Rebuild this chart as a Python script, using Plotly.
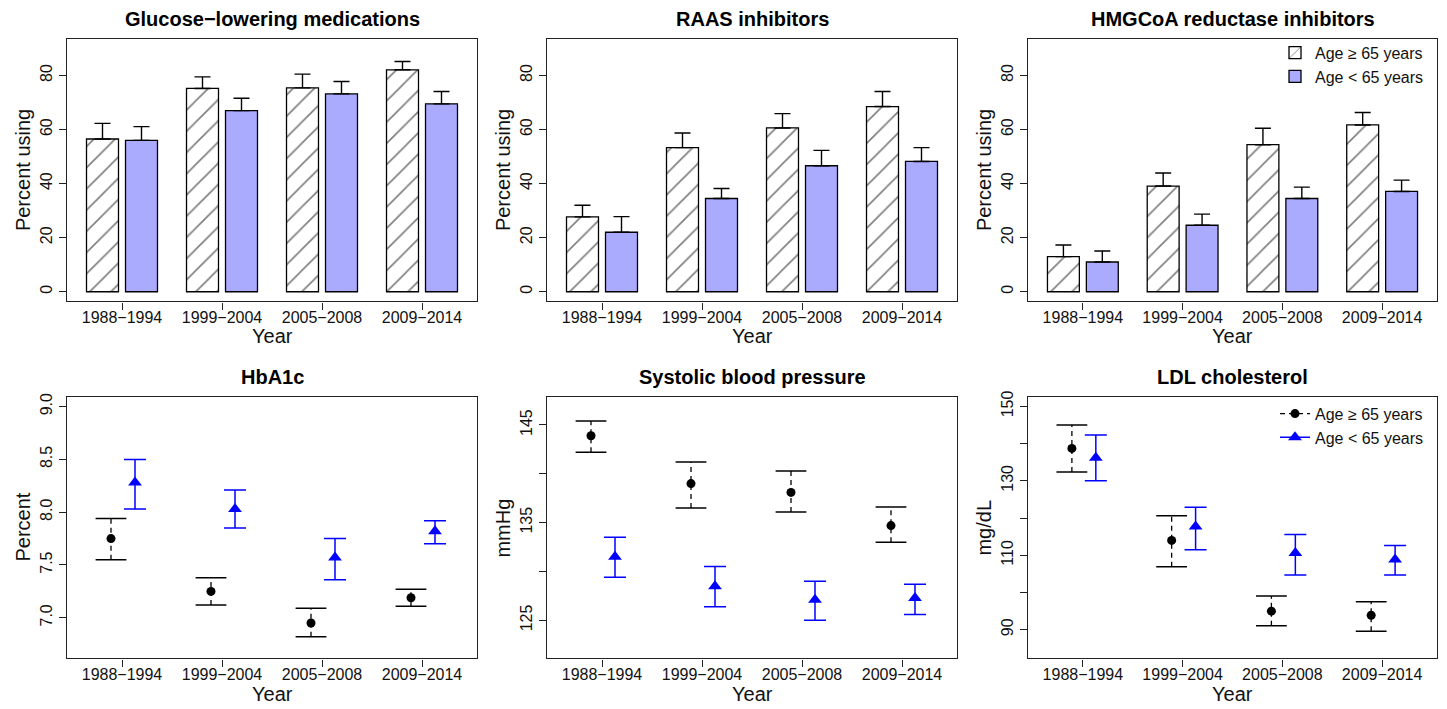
import plotly.graph_objects as go

W, H = 1447, 709
FONT = "Liberation Sans, Arial, Helvetica, sans-serif"

periods = ["1988−1994", "1999−2004", "2005−2008", "2009−2014"]
xpos = [0, 1, 2, 3]

# ---- Bar panels: percent using (estimate, upper CI) ----
glu_old = [56.5, 75.2, 75.4, 82.1]
glu_old_hi = [62.3, 79.5, 80.5, 85.2]
glu_young = [56.0, 67.0, 73.2, 69.5]
glu_young_hi = [61.1, 71.6, 77.8, 74.1]

raas_old = [27.7, 53.3, 60.6, 68.5]
raas_old_hi = [32.0, 58.7, 65.9, 74.1]
raas_young = [22.0, 34.5, 46.6, 48.2]
raas_young_hi = [27.8, 38.2, 52.3, 53.3]

hmg_old = [13.0, 39.1, 54.4, 61.7]
hmg_old_hi = [17.3, 43.9, 60.5, 66.3]
hmg_young = [11.0, 24.6, 34.5, 37.1]
hmg_young_hi = [15.1, 28.7, 38.7, 41.3]

# ---- Point panels: mean, lower CI, upper CI ----
hba_old = [7.75, 7.25, 6.95, 7.19]
hba_old_lo = [7.55, 7.12, 6.82, 7.11]
hba_old_hi = [7.94, 7.38, 7.09, 7.27]
hba_young = [8.28, 8.03, 7.57, 7.82]
hba_young_lo = [8.03, 7.85, 7.36, 7.70]
hba_young_hi = [8.50, 8.21, 7.75, 7.92]

sbp_old = [143.9, 139.0, 138.1, 134.7]
sbp_old_lo = [142.2, 136.5, 136.1, 133.0]
sbp_old_hi = [145.4, 141.2, 140.3, 136.6]
sbp_young = [131.5, 128.5, 127.1, 127.3]
sbp_young_lo = [129.4, 126.4, 125.0, 125.6]
sbp_young_hi = [133.5, 130.5, 129.0, 128.7]

ldl_old = [138.7, 114.0, 95.0, 93.9]
ldl_old_lo = [132.4, 106.9, 91.1, 89.6]
ldl_old_hi = [145.0, 120.6, 99.1, 97.5]
ldl_young = [136.2, 117.7, 110.6, 108.9]
ldl_young_lo = [130.0, 111.5, 104.7, 104.7]
ldl_young_hi = [142.3, 122.9, 115.6, 112.6]

LABEL_OLD = "Age ≥ 65 years"
LABEL_YOUNG = "Age < 65 years"
BAR_BLUE = "#AAAAFF"
PT_BLUE = "#0000FF"

cols = [(67, 477), (547, 957), (1028, 1437)]
rows = [(33, 298), (394, 658)]

fig = go.Figure()


def ax_name(i):
    return "" if i == 1 else str(i)


def add_bars(idx, old, old_hi, young, young_hi, legend):
    a = ax_name(idx)
    fig.add_trace(go.Bar(
        x=xpos, y=old, name=LABEL_OLD, offsetgroup="old",
        xaxis="x" + a, yaxis="y" + a, showlegend=legend, legend="legend",
        marker=dict(color="white", line=dict(color="black", width=1.3),
                    pattern=dict(shape="/", fgcolor="black", bgcolor="white",
                                 size=15, solidity=0.11)),
        error_y=dict(type="data", symmetric=False,
                     array=[h - v for h, v in zip(old_hi, old)],
                     arrayminus=[0] * len(old), color="black",
                     thickness=1.4, width=8),
    ))
    fig.add_trace(go.Bar(
        x=xpos, y=young, name=LABEL_YOUNG, offsetgroup="young",
        xaxis="x" + a, yaxis="y" + a, showlegend=legend, legend="legend",
        marker=dict(color=BAR_BLUE, line=dict(color="black", width=1.3)),
        error_y=dict(type="data", symmetric=False,
                     array=[h - v for h, v in zip(young_hi, young)],
                     arrayminus=[0] * len(young), color="black",
                     thickness=1.4, width=8),
    ))


def add_points(idx, old, old_lo, old_hi, young, young_lo, young_hi):
    a = ax_name(idx)
    xo = [x - 0.11 for x in xpos]
    xy = [x + 0.13 for x in xpos]
    # dashed CI lines for older group
    lx, ly = [], []
    for x, lo, hi in zip(xo, old_lo, old_hi):
        lx += [x, x, None]
        ly += [lo, hi, None]
    fig.add_trace(go.Scatter(
        x=lx, y=ly, mode="lines", xaxis="x" + a, yaxis="y" + a,
        line=dict(color="black", width=1.3, dash="5px,4px"),
        showlegend=False, hoverinfo="skip"))
    fig.add_trace(go.Scatter(
        x=xo + xo, y=old_lo + old_hi, mode="markers",
        xaxis="x" + a, yaxis="y" + a, showlegend=False, hoverinfo="skip",
        marker=dict(symbol="line-ew", size=22, color="black",
                    line=dict(color="black", width=1.5))))
    fig.add_trace(go.Scatter(
        x=xo, y=old, mode="markers", xaxis="x" + a, yaxis="y" + a,
        name=LABEL_OLD, showlegend=False,
        marker=dict(symbol="circle", size=9, color="black")))
    fig.add_trace(go.Scatter(
        x=xy, y=young, mode="markers", xaxis="x" + a, yaxis="y" + a,
        name=LABEL_YOUNG, showlegend=False,
        marker=dict(symbol="triangle-up", size=12, color=PT_BLUE),
        error_y=dict(type="data", symmetric=False,
                     array=[h - v for h, v in zip(young_hi, young)],
                     arrayminus=[v - l for v, l in zip(young, young_lo)],
                     color=PT_BLUE, thickness=1.5, width=11)))


add_bars(1, glu_old, glu_old_hi, glu_young, glu_young_hi, False)
add_bars(2, raas_old, raas_old_hi, raas_young, raas_young_hi, False)
add_bars(3, hmg_old, hmg_old_hi, hmg_young, hmg_young_hi, True)
add_points(4, hba_old, hba_old_lo, hba_old_hi, hba_young, hba_young_lo, hba_young_hi)
add_points(5, sbp_old, sbp_old_lo, sbp_old_hi, sbp_young, sbp_young_lo, sbp_young_hi)
add_points(6, ldl_old, ldl_old_lo, ldl_old_hi, ldl_young, ldl_young_lo, ldl_young_hi)

# legend entries for point panels
fig.add_trace(go.Scatter(
    x=[None], y=[None], mode="lines+markers", name=LABEL_OLD, legend="legend2",
    xaxis="x6", yaxis="y6",
    line=dict(color="black", width=1.3, dash="5px,4px"),
    marker=dict(symbol="circle", size=9, color="black")))
fig.add_trace(go.Scatter(
    x=[None], y=[None], mode="lines+markers", name=LABEL_YOUNG, legend="legend2",
    xaxis="x6", yaxis="y6",
    line=dict(color=PT_BLUE, width=1.5),
    marker=dict(symbol="triangle-up", size=12, color=PT_BLUE)))

titles = ["Glucose−lowering medications", "RAAS inhibitors",
          "HMGCoA reductase inhibitors", "HbA1c", "Systolic blood pressure",
          "LDL cholesterol"]
ytitles = ["Percent using", "Percent using", "Percent using", "Percent",
           "mmHg", "mg/dL"]
yranges = [[-3.6, 93.6], [-3.6, 93.6], [-3.6, 93.6],
           [6.615, 9.094], [121.1, 147.9], [82.3, 152.6]]
ytickvals = [[0, 20, 40, 60, 80]] * 3 + [
    [7.0, 7.5, 8.0, 8.5, 9.0],
    [125, 130, 135, 140, 145],
    [90, 100, 110, 120, 130, 140, 150]]
yticktext = [["0", "20", "40", "60", "80"]] * 3 + [
    ["7.0", "7.5", "8.0", "8.5", "9.0"],
    ["125", "", "135", "", "145"],
    ["90", "", "110", "", "130", "", "150"]]

axis_common = dict(showline=True, mirror=True, linecolor="#222", linewidth=1.3,
                   ticks="outside", ticklen=7, tickwidth=1.3, tickcolor="#222",
                   showgrid=False, zeroline=False,
                   tickfont=dict(family=FONT, size=16, color="#111"))

layout = dict(width=W, height=H, autosize=False,
              margin=dict(l=0, r=0, t=0, b=0),
              paper_bgcolor="white", plot_bgcolor="white",
              font=dict(family=FONT, color="#111"),
              barmode="group", bargap=0.22, bargroupgap=0.18,
              annotations=[])

for i in range(6):
    r, c = divmod(i, 3)
    x0, x1 = cols[c]
    y0, y1 = rows[r]
    a = ax_name(i + 1)
    layout["xaxis" + a] = dict(
        axis_common, domain=[x0 / W, x1 / W], range=[-0.55, 3.55],
        tickvals=xpos, ticktext=periods, anchor="y" + a,
        ticklabelstandoff=-6)
    layout["yaxis" + a] = dict(
        axis_common, domain=[1 - y1 / H, 1 - y0 / H], range=yranges[i],
        tickvals=ytickvals[i], ticktext=yticktext[i], tickangle=-90,
        anchor="x" + a)
    cx = (x0 + x1) / 2
    layout["annotations"].append(dict(
        text="<b>" + titles[i] + "</b>", x=cx / W, y=1 - (13 + 361 * r) / H,
        xref="paper", yref="paper", showarrow=False, xanchor="center",
        yanchor="middle", font=dict(family=FONT, size=20, color="#000")))
    layout["annotations"].append(dict(
        text="Year", x=cx / W, y=1 - (333 + 361 * r) / H,
        xref="paper", yref="paper", showarrow=False, xanchor="center",
        yanchor="middle", font=dict(family=FONT, size=20, color="#111")))
    layout["annotations"].append(dict(
        text=ytitles[i], x=(x0 - 44) / W, y=1 - ((y0 + y1) / 2) / H,
        xref="paper", yref="paper", showarrow=False, xanchor="center",
        yanchor="middle", textangle=-90,
        font=dict(family=FONT, size=20, color="#111")))

layout["legend"] = dict(x=1275 / W, y=1 - 30 / H, xanchor="left", yanchor="top",
                        bgcolor="rgba(0,0,0,0)", borderwidth=0,
                        font=dict(family=FONT, size=16, color="#111"),
                        traceorder="normal")
layout["legend2"] = dict(x=1275 / W, y=1 - 394 / H, xanchor="left", yanchor="top",
                         bgcolor="rgba(0,0,0,0)", borderwidth=0,
                         font=dict(family=FONT, size=16, color="#111"),
                         traceorder="normal")

fig.update_layout(**layout)
fig.write_html("out.html",
               config={"displayModeBar": False},
               post_script="document.body.style.margin='0';"
                           "document.documentElement.style.overflow='hidden';")
